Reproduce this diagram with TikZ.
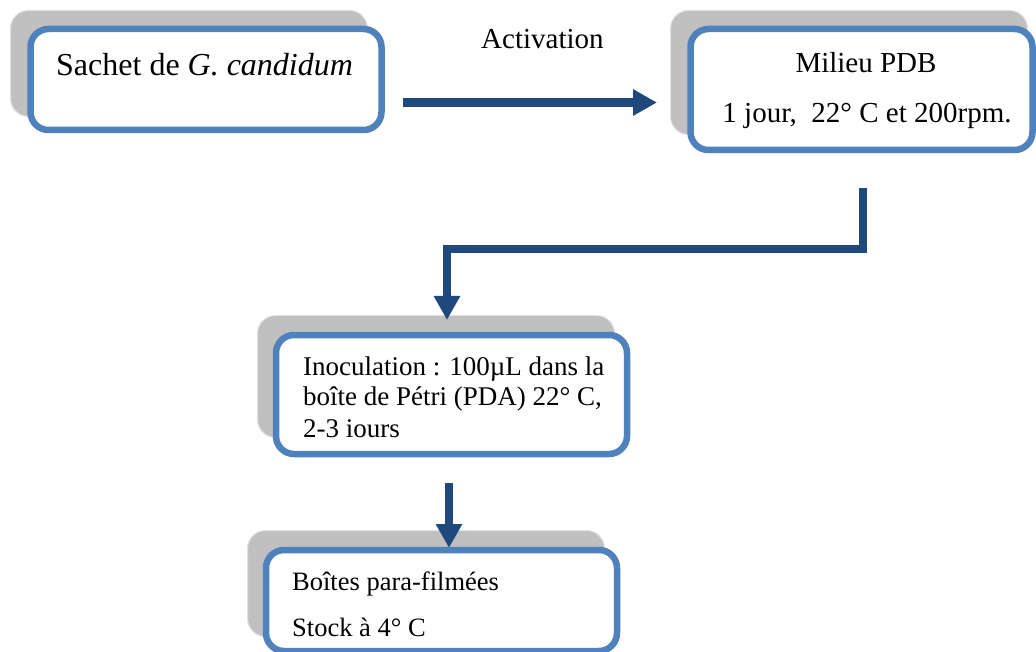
\documentclass[tikz,border=0pt]{standalone}
\usepackage{fontspec}
\setmainfont{Liberation Serif}
\usetikzlibrary{arrows.meta}
\definecolor{boxblue}{RGB}{79,129,189}
\definecolor{flowblue}{RGB}{31,73,125}
\definecolor{backgray}{RGB}{192,192,192}
\definecolor{backedge}{RGB}{225,225,225}
\begin{document}
\begin{tikzpicture}[x=1pt,y=-1pt,
  frontbox/.style={draw=boxblue, line width=6.5pt, fill=white, rounded corners=18pt,
    rectangle, inner sep=0pt, minimum width=#1},
  frontbox/.default=351pt,
  backbox/.style={draw=backedge, line width=1pt, fill=backgray, rounded corners=18pt,
    rectangle, inner sep=0pt, minimum width=357pt},
  flow/.style={draw=flowblue, line width=8.5pt,
    -{Triangle[width=25pt,length=24pt]}},
  lbl/.style={inner sep=0pt, anchor=base west}]
\clip (0,0) rectangle (1036,652);
\fill[white] (0,0) rectangle (1036,652);

% grey backing cards
\node[backbox, minimum height=106pt] (s1) at (189,63.5) {};
\node[backbox, minimum height=124pt] (s2) at (849,72.5) {};
\node[backbox, minimum height=122pt] (s3) at (436,376.5) {};
\node[backbox, minimum height=106pt] (s4) at (426,583.5) {};

% connectors
\coordinate (a1) at (403,102.5);
\coordinate (a2) at (657,102.5);
\draw[flow] (a1) -- (a2);
\coordinate (c1) at (863,188);
\coordinate (c2) at (447,320);
\draw[flow] (c1) |- (447,249) -- (c2);
\coordinate (d1) at (449,483);
\coordinate (d2) at (449,548);
\draw[flow] (d1) -- (d2);

% white boxes with blue frames
\node[frontbox, minimum height=101pt] (b1) at (206,79.5) {};
\node[frontbox=342pt, minimum height=121pt] (b2) at (861.5,89.5) {};
\node[frontbox, minimum height=119pt] (b3) at (451.5,394.5) {};
\node[frontbox, minimum height=101pt] (b4) at (441.5,600.5) {};

% labels
\node[lbl, font=\fontsize{32}{36}\selectfont] (t1) at (56,76) {Sachet de \textit{G. candidum}};
\node[lbl, font=\fontsize{29}{33}\selectfont] (ta) at (481,49) {Activation};
\node[inner sep=0pt, anchor=base, font=\fontsize{29}{33}\selectfont] (t2a) at (866,73) {Milieu PDB};
\node[inner sep=0pt, anchor=base, font=\fontsize{29}{33}\selectfont] (t2b) at (867,123) {1 jour,\ \ 22° C et 200rpm.};
\node[lbl, font=\fontsize{27}{31}\selectfont] (t3a) at (303,375) {Inoculation : 100µL dans la};
\node[lbl, font=\fontsize{27}{31}\selectfont] (t3b) at (303,405) {boîte de Pétri (PDA) 22° C,};
\node[lbl, font=\fontsize{27}{31}\selectfont] (t3c) at (303,437) {2-3 iours};
\node[lbl, font=\fontsize{26.5}{30}\selectfont] (t4a) at (292,590) {Boîtes para-filmées};
\node[lbl, font=\fontsize{26.5}{30}\selectfont] (t4b) at (292,636) {Stock à 4° C};
\end{tikzpicture}
\end{document}
